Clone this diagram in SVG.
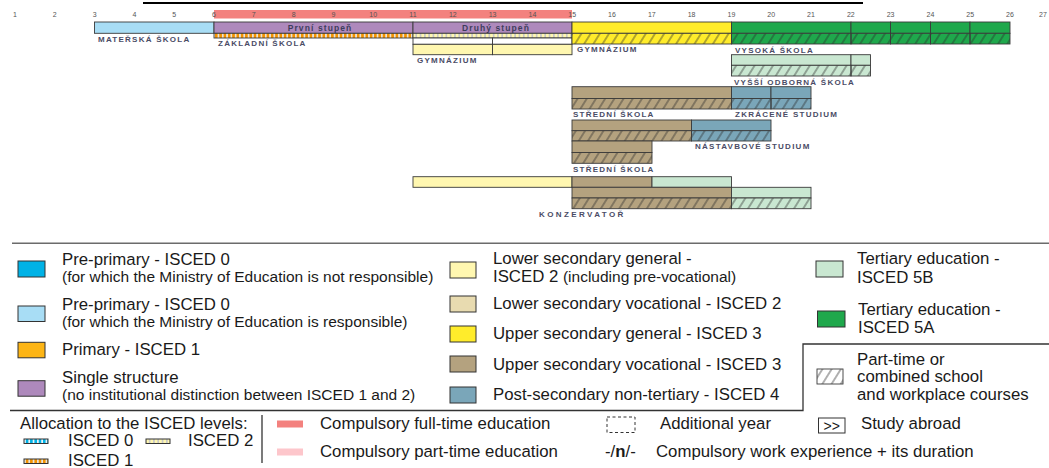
<svg xmlns="http://www.w3.org/2000/svg" width="1049" height="468" viewBox="0 0 1049 468">
<style>
.b{stroke:#3a3a3a;stroke-width:0.9}
.h{fill:url(#hatch);stroke:#3a3a3a;stroke-width:0.9}
.lb{fill:#A8DDF5}.pu{fill:#AE89BC}.ye{fill:#FFEC2B}.ly{fill:#FFF7B0}.gr{fill:#1FA84C}.lg{fill:#C9E7D1}.tn{fill:#B4A27F}.bl{fill:#7AA6B9}
.num{font-family:"Liberation Sans",Arial,sans-serif;font-size:7px;fill:#555;text-anchor:middle}
.lbl{font-family:"Liberation Sans",Arial,sans-serif;font-weight:bold;font-size:8px;letter-spacing:1.25px;fill:#4a4c66}
.stg{font-family:"Liberation Sans",Arial,sans-serif;font-weight:bold;font-size:8.5px;letter-spacing:1.1px;fill:#3d3d5c;text-anchor:middle}
.lt{font-family:"Liberation Sans",Arial,sans-serif;font-size:16.8px;fill:#1a1a1a}
.ls{font-family:"Liberation Sans",Arial,sans-serif;font-size:15.5px;fill:#1a1a1a}
.sw{stroke:#333;stroke-width:1}
</style>
<defs>
<pattern id="hatch" patternUnits="userSpaceOnUse" width="7.8" height="10" patternTransform="rotate(32)">
<line x1="3.9" y1="-1" x2="3.9" y2="11" stroke="#2b2b2b" stroke-width="0.75"/>
</pattern>
<pattern id="s1" patternUnits="userSpaceOnUse" width="4.3" height="5">
<rect width="4.3" height="5" fill="#F39200"/><rect x="2.6" width="1.7" height="5" fill="#E9E4DA"/>
</pattern>
<pattern id="s2" patternUnits="userSpaceOnUse" width="4.3" height="5">
<rect width="4.3" height="5" fill="#FFF7B0"/><rect x="2.6" width="1.7" height="5" fill="#C9C9C9"/>
</pattern>
<pattern id="s0" patternUnits="userSpaceOnUse" width="4.3" height="5">
<rect width="4.3" height="5" fill="#00B2E6"/><rect x="2.6" width="1.7" height="5" fill="#E6F4FA"/>
</pattern>
</defs>
<rect width="1049" height="468" fill="#fff"/>
<line x1="143" y1="3" x2="863" y2="3" stroke="#000" stroke-width="2"/>

<g id="axis">
<rect x="214" y="10" width="358" height="8.5" fill="#F3817E"/>
<text class="num" x="15" y="16.5">1</text><text class="num" x="54.8" y="16.5">2</text><text class="num" x="94.6" y="16.5">3</text><text class="num" x="134.4" y="16.5">4</text><text class="num" x="174.2" y="16.5">5</text><text class="num" x="214" y="16.5">6</text><text class="num" x="253.8" y="16.5">7</text><text class="num" x="293.6" y="16.5">8</text><text class="num" x="333.4" y="16.5">9</text><text class="num" x="373.2" y="16.5">10</text><text class="num" x="413" y="16.5">11</text><text class="num" x="452.8" y="16.5">12</text><text class="num" x="492.6" y="16.5">13</text><text class="num" x="532.4" y="16.5">14</text><text class="num" x="572.2" y="16.5">15</text><text class="num" x="612" y="16.5">16</text><text class="num" x="651.8" y="16.5">17</text><text class="num" x="691.6" y="16.5">18</text><text class="num" x="731.4" y="16.5">19</text><text class="num" x="771.2" y="16.5">20</text><text class="num" x="811" y="16.5">21</text><text class="num" x="850.8" y="16.5">22</text><text class="num" x="890.6" y="16.5">23</text><text class="num" x="930.4" y="16.5">24</text><text class="num" x="970.2" y="16.5">25</text><text class="num" x="1010" y="16.5">26</text><text class="num" x="1043" y="16.5">27</text>
</g>

<g id="materska-skola">
<rect class="b lb" x="94.5" y="22" width="119.5" height="11.3"/>
<text class="lbl" x="98" y="41.7">MATEŘSKÁ ŠKOLA</text>
</g>

<g id="zakladni-skola">
<rect class="b pu" x="214" y="22" width="199" height="11.3"/>
<rect class="b" fill="url(#s1)" x="214" y="33.3" width="199" height="4.7"/>
<text class="stg" x="320" y="30.5">První stupeň</text>
<rect class="b pu" x="413" y="22" width="159" height="11.3"/>
<rect class="b" fill="url(#s2)" x="413" y="33.3" width="159" height="4.7"/>
<text class="stg" x="496" y="30.5">Druhý stupeň</text>
<text class="lbl" x="218" y="46">ZÁKLADNÍ ŠKOLA</text>
</g>

<g id="gymnazium-8">
<rect class="b" fill="#fff" x="413" y="38" width="79.5" height="6.3"/>
<rect class="b" fill="#fff" x="492.5" y="38" width="79.5" height="6.3"/>
<rect class="b ly" x="413" y="44.3" width="79.5" height="10.4"/>
<rect class="b ly" x="492.5" y="44.3" width="79.5" height="10.4"/>
<text class="lbl" x="417" y="63">GYMNÁZIUM</text>
</g>

<g id="gymnazium-4">
<rect class="b ye" x="572" y="22" width="159.5" height="11.3"/>
<rect class="ye" x="572" y="33.3" width="159.5" height="10.7"/><rect class="h" x="572" y="33.3" width="159.5" height="10.7"/>
<text class="lbl" x="577" y="52.3">GYMNÁZIUM</text>
</g>

<g id="vysoka-skola">
<rect class="b gr" x="731.5" y="22" width="119.5" height="11.3"/>
<rect class="b gr" x="851" y="22" width="39.5" height="11.3"/>
<rect class="b gr" x="890.5" y="22" width="40" height="11.3"/>
<rect class="b gr" x="930.5" y="22" width="39.5" height="11.3"/>
<rect class="b gr" x="970" y="22" width="40" height="11.3"/>
<rect class="gr" x="731.5" y="33.3" width="278.5" height="10.7"/>
<rect class="h" x="731.5" y="33.3" width="119.5" height="10.7"/>
<rect class="h" x="851" y="33.3" width="39.5" height="10.7"/>
<rect class="h" x="890.5" y="33.3" width="40" height="10.7"/>
<rect class="h" x="930.5" y="33.3" width="39.5" height="10.7"/>
<rect class="h" x="970" y="33.3" width="40" height="10.7"/>
<text class="lbl" x="735" y="52.5">VYSOKÁ ŠKOLA</text>
</g>

<g id="vyssi-odborna-skola">
<rect class="b lg" x="731.5" y="54.7" width="119.5" height="10.6"/>
<rect class="b lg" x="851" y="54.7" width="19.5" height="10.6"/>
<rect class="lg" x="731.5" y="65.3" width="139" height="10.7"/>
<rect class="h" x="731.5" y="65.3" width="119.5" height="10.7"/>
<rect class="h" x="851" y="65.3" width="19.5" height="10.7"/>
<text class="lbl" x="734" y="84.5">VYŠŠÍ ODBORNÁ ŠKOLA</text>
</g>

<g id="stredni-skola-maturita">
<rect class="b tn" x="572" y="86.7" width="159.5" height="11.8"/>
<rect class="tn" x="572" y="98.5" width="159.5" height="10.5"/><rect class="h" x="572" y="98.5" width="159.5" height="10.5"/>
<text class="lbl" x="573" y="117.3">STŘEDNÍ ŠKOLA</text>
</g>

<g id="zkracene-studium">
<rect class="b bl" x="731.5" y="86.7" width="39.5" height="11.8"/>
<rect class="b bl" x="771" y="86.7" width="40" height="11.8"/>
<rect class="bl" x="731.5" y="98.5" width="79.5" height="10.5"/>
<rect class="h" x="731.5" y="98.5" width="39.5" height="10.5"/>
<rect class="h" x="771" y="98.5" width="40" height="10.5"/>
<text class="lbl" x="735" y="117.3">ZKRÁCENÉ STUDIUM</text>
</g>

<g id="stredni-skola-vyucni">
<rect class="b tn" x="572" y="120" width="119.5" height="10.7"/>
<rect class="tn" x="572" y="130.7" width="119.5" height="10.3"/><rect class="h" x="572" y="130.7" width="119.5" height="10.3"/>
</g>

<g id="nastavbove-studium">
<rect class="b bl" x="691.5" y="120" width="79.5" height="10.7"/>
<rect class="bl" x="691.5" y="130.7" width="79.5" height="10.3"/><rect class="h" x="691.5" y="130.7" width="79.5" height="10.3"/>
<text class="lbl" x="695" y="149.3">NÁSTAVBOVÉ STUDIUM</text>
</g>

<g id="stredni-skola-kratka">
<rect class="b tn" x="572" y="141" width="80" height="11.5"/>
<rect class="tn" x="572" y="152.5" width="80" height="10.8"/><rect class="h" x="572" y="152.5" width="80" height="10.8"/>
<text class="lbl" x="573" y="171.7">STŘEDNÍ ŠKOLA</text>
</g>

<g id="konzervator">
<rect class="b ly" x="413" y="176.7" width="159" height="10.6"/>
<rect class="b tn" x="572" y="176.7" width="80" height="10.6"/>
<rect class="b lg" x="652" y="176.7" width="79.5" height="10.6"/>
<rect class="b tn" x="572" y="187.3" width="159.5" height="10.7"/>
<rect class="b lg" x="731.5" y="187.3" width="79.5" height="10.7"/>
<rect class="tn" x="572" y="198" width="159.5" height="10.7"/><rect class="h" x="572" y="198" width="159.5" height="10.7"/>
<rect class="lg" x="731.5" y="198" width="79.5" height="10.7"/><rect class="h" x="731.5" y="198" width="79.5" height="10.7"/>
<text class="lbl" x="539" y="216.7" style="letter-spacing:2.4px">KONZERVATOŘ</text>
</g>

<g id="connectors"></g>

<g id="legend">
<line x1="12" y1="243.3" x2="1049" y2="243.3" stroke="#6b6b6b" stroke-width="1.5"/>
<path d="M10 410.5H803V344H1049" fill="none" stroke="#333" stroke-width="1.3"/>
<line x1="262" y1="415" x2="262" y2="463" stroke="#333" stroke-width="1.3"/>

<g id="leg-isced0-nr"><rect class="sw" x="18" y="261" width="27" height="16" fill="#00B2E6"/>
<text class="lt" x="62" y="264.5">Pre-primary - ISCED 0</text>
<text class="ls" x="62" y="282">(for which the Ministry of Education is not responsible)</text></g>
<g id="leg-isced0-r"><rect class="sw" x="18" y="306" width="27" height="15.5" fill="#A8DDF5"/>
<text class="lt" x="62" y="309.5">Pre-primary - ISCED 0</text>
<text class="ls" x="62" y="327">(for which the Ministry of Education is responsible)</text></g>
<g id="leg-isced1"><rect class="sw" x="18" y="342.3" width="27" height="15.5" fill="#FDB515"/>
<text class="lt" x="62" y="355">Primary - ISCED 1</text></g>
<g id="leg-single"><rect class="sw" x="18" y="380.7" width="27" height="15.5" fill="#AE89BC"/>
<text class="lt" x="62" y="382.5">Single structure</text>
<text class="ls" x="62" y="400">(no institutional distinction between ISCED 1 and 2)</text></g>

<g id="leg-lsg"><rect class="sw" x="450" y="262" width="26" height="16" fill="#FFF7B0"/>
<text class="lt" x="493" y="264">Lower secondary general -</text>
<text class="lt" x="493" y="282">ISCED 2 <tspan class="ls">(including pre-vocational)</tspan></text></g>
<g id="leg-lsv"><rect class="sw" x="450" y="296" width="26" height="16" fill="#E8DBB0"/>
<text class="lt" x="493" y="309">Lower secondary vocational - ISCED 2</text></g>
<g id="leg-usg"><rect class="sw" x="450" y="326" width="26" height="16" fill="#FFEC2B"/>
<text class="lt" x="493" y="339">Upper secondary general - ISCED 3</text></g>
<g id="leg-usv"><rect class="sw" x="450" y="356" width="26" height="16" fill="#B4A27F"/>
<text class="lt" x="493" y="370">Upper secondary vocational - ISCED 3</text></g>
<g id="leg-psnt"><rect class="sw" x="450" y="387" width="26" height="16" fill="#7AA6B9"/>
<text class="lt" x="493" y="400">Post-secondary non-tertiary - ISCED 4</text></g>

<g id="leg-5b"><rect class="sw" x="816" y="261" width="27" height="16" fill="#C9E7D1"/>
<text class="lt" x="857" y="264">Tertiary education -</text>
<text class="lt" x="857" y="282.5">ISCED 5B</text></g>
<g id="leg-5a"><rect class="sw" x="817.5" y="311" width="27.5" height="16" fill="#1FA84C"/>
<text class="lt" x="858" y="314.5">Tertiary education -</text>
<text class="lt" x="858" y="333">ISCED 5A</text></g>
<g id="leg-parttime"><rect x="817" y="369" width="26" height="15" fill="#fff"/><rect class="h" x="817" y="369" width="26" height="15"/>
<text class="lt" x="857" y="364.5">Part-time or</text>
<text class="lt" x="857" y="382">combined school</text>
<text class="lt" x="857" y="399.5">and workplace courses</text></g>

<g id="leg-allocation">
<text class="lt" x="20" y="429">Allocation to the ISCED levels:</text>
<rect class="sw" x="24" y="439" width="24" height="4.5" fill="url(#s0)"/>
<text class="lt" x="68" y="446">ISCED 0</text>
<rect class="sw" x="146" y="439" width="24" height="4.5" fill="url(#s2)"/>
<text class="lt" x="188" y="446">ISCED 2</text>
<rect class="sw" x="24" y="459" width="24" height="4.5" fill="url(#s1)"/>
<text class="lt" x="68" y="466">ISCED 1</text>
</g>
<g id="leg-compulsory">
<rect x="277" y="420.5" width="26" height="7" fill="#F3817E"/>
<text class="lt" x="320" y="429">Compulsory full-time education</text>
<rect x="277" y="448.5" width="26" height="7" fill="#FDC6CB"/>
<text class="lt" x="320" y="457">Compulsory part-time education</text>
</g>
<g id="leg-extra">
<rect x="607" y="417" width="28" height="15.5" fill="none" stroke="#333" stroke-width="1" stroke-dasharray="3 2.5"/>
<text class="lt" x="660" y="429">Additional year</text>
<rect x="818.5" y="418" width="26.5" height="15" fill="none" stroke="#333" stroke-width="1"/>
<text class="lt" x="831.7" y="430.5" text-anchor="middle" style="font-size:14px">&gt;&gt;</text>
<text class="lt" x="861" y="429">Study abroad</text>
<text class="lt" x="605" y="457">-/<tspan font-weight="bold">n</tspan>/-</text>
<text class="lt" x="656" y="457">Compulsory work experience + its duration</text>
</g>
</g>
</svg>
